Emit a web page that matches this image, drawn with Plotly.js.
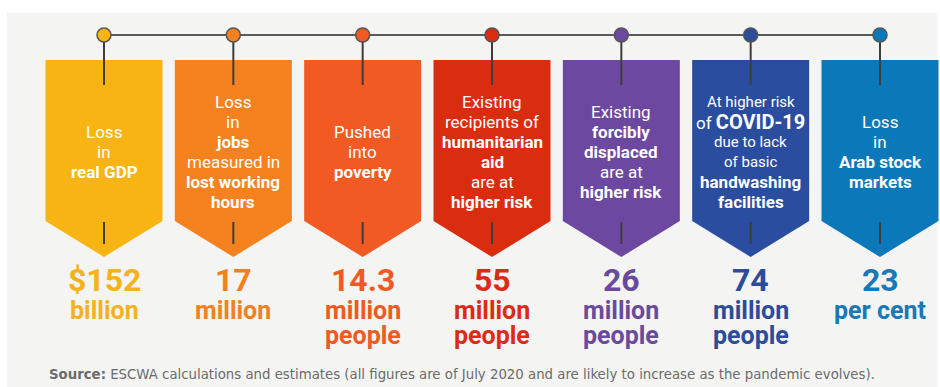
<!DOCTYPE html>
<html>
<head>
<meta charset="utf-8">
<script src="https://cdn.plot.ly/plotly-3.0.1.min.js"></script>
<style>
  html, body { margin: 0; padding: 0; background: #ffffff; }
  #chart { width: 940px; height: 387px; }
</style>
</head>
<body>
<div id="chart"></div>
<script>
// ---- DATA ----
const categories = [
  "Real GDP",
  "Jobs",
  "Poverty",
  "Humanitarian aid recipients",
  "Forcibly displaced",
  "Handwashing facilities",
  "Arab stock markets"
];
// **bold**, __small__, !!large bold!!
const descriptions = [
  ["Loss", "in", "**real GDP**"],
  ["Loss", "in", "**jobs**", "measured in", "**lost working**", "**hours**"],
  ["Pushed", "into", "**poverty**"],
  ["Existing", "recipients of", "**humanitarian**", "**aid**", "are at", "**higher risk**"],
  ["Existing", "**forcibly**", "**displaced**", "are at", "**higher risk**"],
  ["__At higher risk__", "of !!COVID-19!!", "__due to lack__", "__of basic__", "**handwashing**", "**facilities**"],
  ["Loss", "in", "**Arab stock**", "**markets**"]
];
const values = ["$152", "17", "14.3", "55", "26", "74", "23"];
const units = [
  ["billion"],
  ["million"],
  ["million", "people"],
  ["million", "people"],
  ["million", "people"],
  ["million", "people"],
  ["per cent"]
];
const sourceNote = "<b>Source:</b> ESCWA calculations and estimates (all figures are of July 2020 and are likely to increase as the pandemic evolves).";

// ---- STYLE ----
const bannerColors = ["#F8B412", "#F5821F", "#F15A22", "#DA2C0E", "#6C48A0", "#2B4DA0", "#0B79B9"];
const valueColors  = ["#F5B21C", "#F3801F", "#EE5A24", "#DC2A17", "#6A4A9C", "#2C4C9B", "#1878B8"];
const FONT = "Roboto, 'Open Sans', Arial, sans-serif";

const W = 940, H = 387;
const firstCenterPx = 104, lastCenterPx = 880;
const pxPerUnit = (lastCenterPx - firstCenterPx) / (categories.length - 1);
const xRange = [-firstCenterPx / pxPerUnit, (W - firstCenterPx) / pxPerUnit];
const halfW = 58.5 / pxPerUnit;

const lineY = 35, bannerTop = 60, bannerShoulder = 221, bannerTip = 257;
const textCenterY = 152, textLineGap = 20;

function fmt(s) {
  return s
    .replace(/\*\*(.+?)\*\*/g, "<b>$1</b>")
    .replace(/__(.+?)__/g, "<span style='font-size:15px'>$1</span>")
    .replace(/!!(.+?)!!/g, "<b><span style='font-size:20px'>$1</span></b>");
}

const idx = categories.map((c, i) => i);
const traces = [];

// banners
idx.forEach(i => {
  traces.push({
    type: "scatter", mode: "lines", fill: "toself",
    x: [i - halfW, i + halfW, i + halfW, i, i - halfW, i - halfW],
    y: [bannerTop, bannerTop, bannerShoulder, bannerTip, bannerShoulder, bannerTop],
    fillcolor: bannerColors[i], line: {width: 0, color: bannerColors[i]},
    hoverinfo: "skip", showlegend: false, name: categories[i]
  });
});
// stems
idx.forEach(i => {
  traces.push({
    type: "scatter", mode: "lines",
    x: [i, i], y: [lineY, 85],
    line: {color: "#3d3d3d", width: 2},
    hoverinfo: "skip", showlegend: false
  });
  traces.push({
    type: "scatter", mode: "lines",
    x: [i, i], y: [222, 244],
    line: {color: "#3d3d3d", width: 2},
    hoverinfo: "skip", showlegend: false
  });
});
// timeline
traces.push({
  type: "scatter", mode: "lines",
  x: [idx[0], idx[idx.length - 1]], y: [lineY, lineY],
  line: {color: "#5a5a5a", width: 2},
  hoverinfo: "skip", showlegend: false
});
// circles
traces.push({
  type: "scatter", mode: "markers",
  x: idx, y: idx.map(() => lineY),
  marker: {size: 14, color: bannerColors, line: {color: "#555555", width: 1.5}},
  hoverinfo: "skip", showlegend: false, text: categories
});

const annotations = [];
idx.forEach(i => {
  const lines = descriptions[i];
  const n = lines.length;
  lines.forEach((ln, k) => {
    annotations.push({
      x: i, y: textCenterY + (k - (n - 1) / 2) * textLineGap,
      xref: "x", yref: "y", xanchor: "center", yanchor: "middle",
      text: fmt(ln), showarrow: false,
      font: {family: FONT, size: 17, color: "#ffffff"}
    });
  });
  annotations.push({
    x: i, y: 280, xref: "x", yref: "y", xanchor: "center", yanchor: "middle",
    text: "<b>" + values[i] + "</b>", showarrow: false,
    font: {family: FONT, size: 32, color: valueColors[i]}
  });
  units[i].forEach((u, k) => {
    annotations.push({
      x: i, y: 310 + k * 25, xref: "x", yref: "y", xanchor: "center", yanchor: "middle",
      text: "<b>" + u + "</b>", showarrow: false,
      font: {family: FONT, size: 25, color: valueColors[i]}
    });
  });
});
annotations.push({
  x: 47 / W, y: 1 - 374 / H, xref: "paper", yref: "paper",
  xanchor: "left", yanchor: "middle", showarrow: false,
  text: sourceNote,
  font: {family: "'DejaVu Sans', Verdana, sans-serif", size: 13.3, color: "#6b6b6b"}
});

const layout = {
  width: W, height: H, autosize: false,
  margin: {l: 0, r: 0, t: 0, b: 0, pad: 0},
  paper_bgcolor: "#ffffff", plot_bgcolor: "rgba(0,0,0,0)",
  xaxis: {range: xRange, visible: false, fixedrange: true},
  yaxis: {range: [H, 0], visible: false, fixedrange: true},
  shapes: [
    {type: "rect", xref: "paper", yref: "paper", x0: 7 / W, x1: 937 / W, y0: 0, y1: 1 - 13 / H,
     fillcolor: "#f4f4f2", line: {width: 0}, layer: "below"}
  ],
  annotations: annotations,
  showlegend: false
};

Plotly.newPlot("chart", traces, layout, {staticPlot: true, displayModeBar: false});
</script>
</body>
</html>
